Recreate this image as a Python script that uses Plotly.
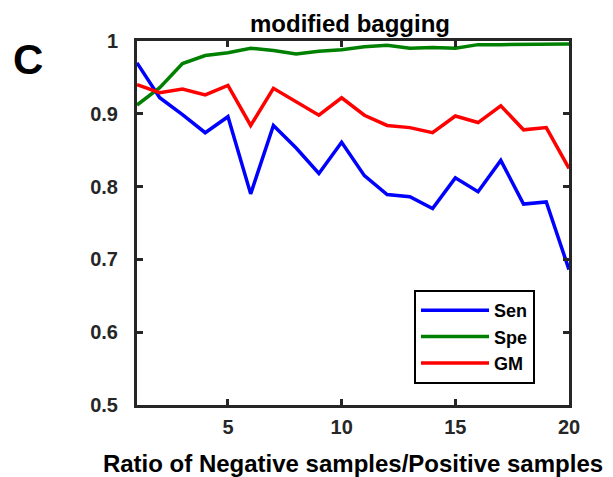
import plotly.graph_objects as go

ratio = list(range(1, 21))
sen = [0.970, 0.922, 0.899, 0.874, 0.896, 0.790, 0.884, 0.853, 0.818, 0.861,
       0.815, 0.789, 0.786, 0.770, 0.812, 0.793, 0.836, 0.776, 0.779, 0.686]
spe = [0.912, 0.936, 0.969, 0.980, 0.984, 0.990, 0.987, 0.982, 0.986, 0.988,
       0.992, 0.994, 0.990, 0.991, 0.990, 0.995, 0.995, 0.995, 0.995, 0.996]
gm = [0.940, 0.929, 0.934, 0.926, 0.939, 0.884, 0.935, 0.916, 0.898, 0.922,
      0.898, 0.884, 0.881, 0.874, 0.897, 0.888, 0.911, 0.878, 0.881, 0.825]
x_ticks = [5, 10, 15, 20]
y_ticks = [0.5, 0.6, 0.7, 0.8, 0.9, 1.0]
y_labels = ["0.5", "0.6", "0.7", "0.8", "0.9", "1"]

FONT = "Liberation Sans, Arial, sans-serif"
L, R, T, B = 137, 569, 41, 405
W, H = 613, 477

fig = go.Figure()
for name, vals, color in [("Sen", sen, "#0000ff"), ("Spe", spe, "#008000"), ("GM", gm, "#ff0000")]:
    fig.add_trace(go.Scatter(x=ratio, y=vals, mode="lines", name=name,
                             line=dict(color=color, width=3.5)))

axis_common = dict(showline=True, mirror="ticks", linecolor="#262626", linewidth=3,
                   ticks="inside", ticklen=6, tickwidth=3, tickcolor="#262626",
                   showgrid=False, zeroline=False, automargin=False,
                   tickfont=dict(family=FONT, size=20, color="#262626", weight="bold"))

fig.update_layout(
    width=W, height=H,
    margin=dict(l=L, r=W - R, t=T, b=H - B, autoexpand=False),
    paper_bgcolor="white", plot_bgcolor="white",
    title=dict(text="<b>modified bagging</b>", x=350 / W, xanchor="center",
               y=1 - 24 / H, yanchor="middle",
               font=dict(family=FONT, size=24, color="black")),
    xaxis=dict(range=[1, 20], tickvals=x_ticks, ticklabelstandoff=2,
               title=dict(text="<b>Ratio of Negative samples/Positive samples</b>",
                          font=dict(family=FONT, size=24, color="black"), standoff=20),
               **axis_common),
    yaxis=dict(range=[0.5, 1.0], tickvals=y_ticks, ticktext=y_labels, ticklabelstandoff=12,
               **axis_common),
    legend=dict(x=(414 - L) / (R - L), y=(B - 290) / (B - T), xanchor="left", yanchor="top",
                bgcolor="white", bordercolor="black", borderwidth=2,
                itemwidth=68, tracegroupgap=0,
                font=dict(family=FONT, size=18, color="black", weight="bold")),
    showlegend=True,
)

fig.add_annotation(text="<b>C</b>", x=(28 - L) / (R - L), y=(B - 59) / (B - T),
                   xref="paper", yref="paper",
                   xanchor="center", yanchor="middle", showarrow=False,
                   font=dict(family=FONT, size=42, color="black"))

fig.write_html("out.html")
